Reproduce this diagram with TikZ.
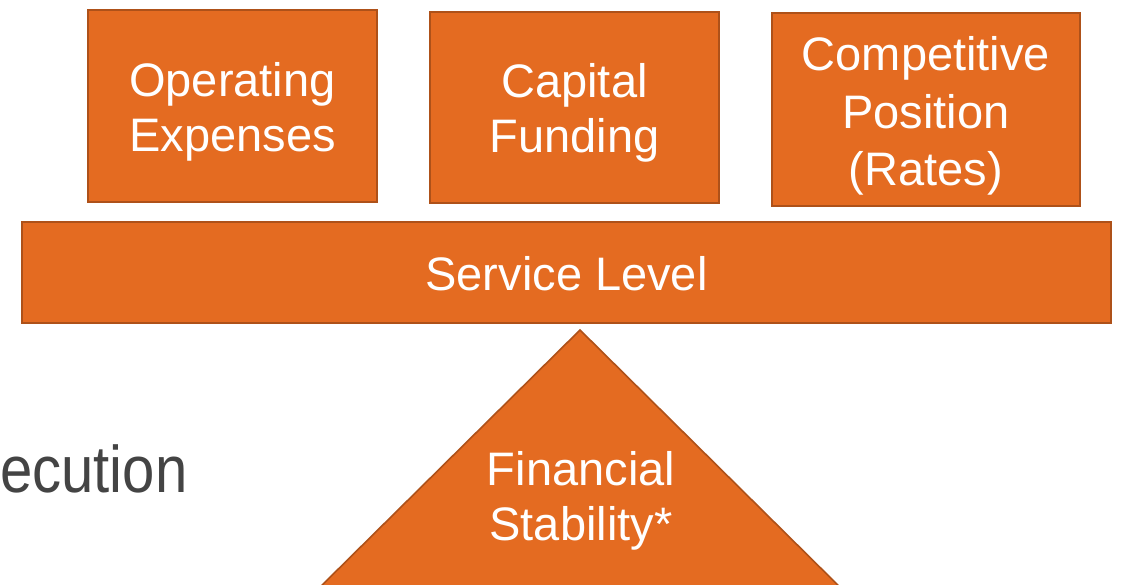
\documentclass[tikz,border=0pt]{standalone}
\usepackage{fontspec}
\setmainfont{Liberation Sans}
\definecolor{orfill}{HTML}{E46B21}
\definecolor{ordraw}{HTML}{AE5119}
\definecolor{greytxt}{HTML}{444444}
\begin{document}
\begin{tikzpicture}[x=1pt,y=1pt,
  box/.style={draw=ordraw, fill=orfill, line width=1.6pt, inner sep=0pt, minimum width=#1},
  wtxt/.style={text=white, font=\fontsize{47}{55}\selectfont, inner sep=0pt, anchor=base},
]
\useasboundingbox (0,0) rectangle (1122,-584);
\clip (0,0) rectangle (1122,-584);
\fill[white] (0,0) rectangle (1122,-584);
% boxes
\node[box=289pt, minimum height=192pt] (opex) at (232.5,-106) {};
\node[box=289pt, minimum height=191pt] (capf) at (574.5,-107.5) {};
\node[box=308pt, minimum height=193pt] (comp) at (926,-109.5) {};
\node[box=1089pt, minimum height=101pt] (serv) at (566.5,-272.5) {};
% triangle
\coordinate (apex) at (580,-330);
\coordinate (bl) at (305,-602);
\coordinate (br) at (855,-602);
\draw[draw=ordraw, fill=orfill, line width=1.6pt, line join=miter] (apex) -- (bl) -- (br) -- cycle;
% texts
\node[wtxt] (t1a) at (232.5,-96) {Operating};
\node[wtxt] (t1b) at (232.5,-151) {Expenses};
\node[wtxt] (t2a) at (574.5,-97) {Capital};
\node[wtxt] (t2b) at (574.5,-152) {Funding};
\node[wtxt] (t3a) at (926,-70) {Competitive};
\node[wtxt] (t3b) at (926,-128) {Position};
\node[wtxt] (t3c) at (926,-185) {(Rates)};
\node[wtxt] (t4) at (566.5,-290) {Service Level};
\node[wtxt] (t5a) at (581,-485) {Financial};
\node[wtxt] (t5b) at (581,-540) {Stability*};
\node[text=greytxt, font=\fontsize{66}{78}\selectfont, inner sep=0pt, anchor=base west, xscale=0.88] (exec) at (0,-492) {ecution};
\end{tikzpicture}
\end{document}
